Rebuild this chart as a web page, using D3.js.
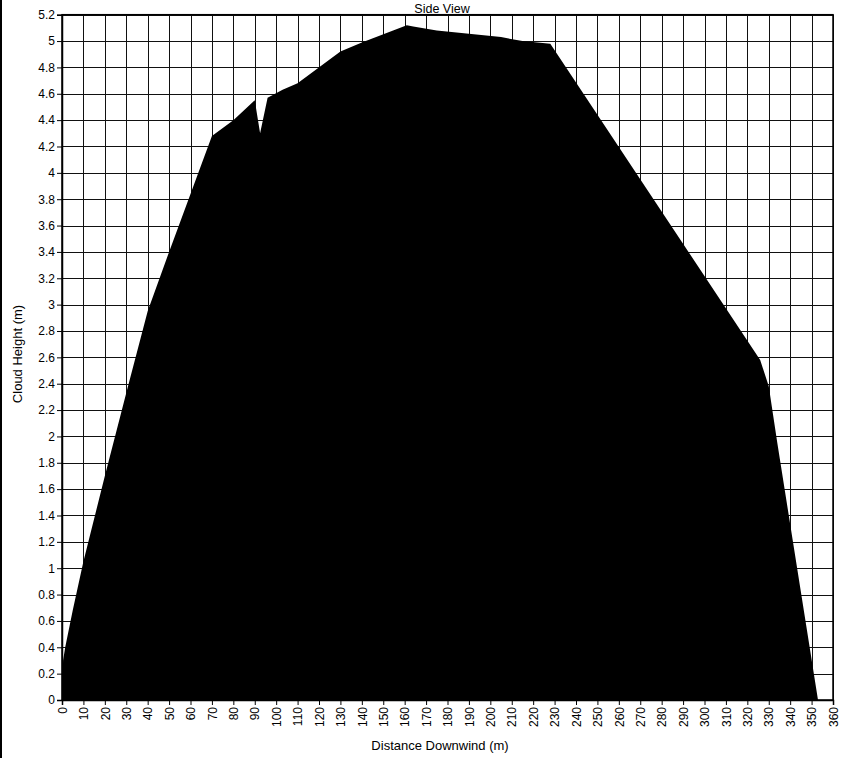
<!DOCTYPE html>
<html>
<head>
<meta charset="utf-8">
<script src="https://cdn.jsdelivr.net/npm/d3@7"></script>
<style>
  html, body { margin: 0; padding: 0; background: #fff; }
  svg { display: block; }
  text { font-family: Arial, "Liberation Sans", sans-serif; fill: #000; }
</style>
</head>
<body>
<svg id="chart" width="844" height="758"></svg>
<script>
// Data: cloud side-view profile (distance downwind m, cloud height m)
const distance = [0, 0.5, 1.5, 5, 10, 20, 30, 40, 50, 70, 80, 90, 92.5, 96, 103, 110, 130, 140, 161, 164, 175, 205, 215, 228, 326, 330, 334, 353];
const height   = [0, 0.3, 0.4, 0.68, 1.05, 1.7, 2.33, 2.95, 3.4, 4.28, 4.4, 4.55, 4.3, 4.57, 4.63, 4.68, 4.92, 4.99, 5.12, 5.11, 5.08, 5.03, 5.0, 4.98, 2.58, 2.38, 1.95, 0];
const xTicks = d3.range(0, 361, 10);
const yTicks = [0, 0.2, 0.4, 0.6, 0.8, 1, 1.2, 1.4, 1.6, 1.8, 2, 2.2, 2.4, 2.6, 2.8, 3, 3.2, 3.4, 3.6, 3.8, 4, 4.2, 4.4, 4.6, 4.8, 5, 5.2];
const titleText = "Side View";
const xTitle = "Distance Downwind (m)";
const yTitle = "Cloud Height (m)";

const svg = d3.select("#chart");
const mLeft = 62, mRight = 833, mTop = 14.7, mBottom = 700;

const x = d3.scaleLinear().domain([0, 360]).range([mLeft, mRight]);
const y = d3.scaleLinear().domain([0, 5.2]).range([mBottom, mTop]);

// outer frame line on the left edge
svg.append("line").attr("x1", 1).attr("x2", 1).attr("y1", 0).attr("y2", 758)
  .attr("stroke", "#000").attr("stroke-width", 2);

// gridlines
const grid = svg.append("g");
grid.selectAll("line.v").data(xTicks).join("line").attr("class", "v")
  .attr("x1", d => Math.round(x(d)) + 0.5).attr("x2", d => Math.round(x(d)) + 0.5)
  .attr("y1", mTop).attr("y2", mBottom)
  .attr("stroke", "#111").attr("stroke-width", 1);
grid.selectAll("line.h").data(yTicks).join("line").attr("class", "h")
  .attr("y1", d => Math.round(y(d)) + 0.5).attr("y2", d => Math.round(y(d)) + 0.5)
  .attr("x1", mLeft).attr("x2", mRight)
  .attr("stroke", "#111").attr("stroke-width", 1);

// area
const pts = distance.map((d, i) => [d, height[i]]);
const area = d3.area().x(d => x(d[0])).y0(y(0)).y1(d => y(d[1]));
svg.append("path").datum(pts).attr("d", area).attr("fill", "#000");

// frame
svg.append("rect").attr("x", mLeft).attr("y", mTop).attr("width", mRight - mLeft).attr("height", mBottom - mTop)
  .attr("fill", "none").attr("stroke", "#000").attr("stroke-width", 1.5);

// y axis
const yAxis = d3.axisLeft(y).tickValues(yTicks).tickSize(5).tickPadding(2)
  .tickFormat(d => d3.format("~g")(d));
const gy = svg.append("g").attr("transform", `translate(${mLeft},0)`).call(yAxis);
gy.select(".domain").attr("stroke", "#000").attr("stroke-width", 1.5);
gy.selectAll(".tick line").attr("stroke", "#000");
gy.selectAll(".tick text").style("font-size", "12px").style("font-family", "Arial, 'Liberation Sans', sans-serif").attr("fill", "#000");

// x axis
const xAxis = d3.axisBottom(x).tickValues(xTicks).tickSize(5).tickPadding(2);
const gx = svg.append("g").attr("transform", `translate(0,${mBottom})`).call(xAxis);
gx.select(".domain").attr("stroke", "#000").attr("stroke-width", 1.5);
gx.selectAll(".tick line").attr("stroke", "#000");
gx.selectAll(".tick text")
  .style("font-size", "12px").style("font-family", "Arial, 'Liberation Sans', sans-serif").attr("fill", "#000")
  .attr("transform", "rotate(-90)")
  .attr("x", -7).attr("y", 0).attr("dy", "0.35em")
  .attr("text-anchor", "end");

// titles
svg.append("text").attr("x", 442).attr("y", 12.5).attr("text-anchor", "middle")
  .style("font-size", "12.5px").text(titleText);
svg.append("text").attr("x", 440).attr("y", 750).attr("text-anchor", "middle")
  .style("font-size", "13px").text(xTitle);
svg.append("text").attr("transform", "translate(22,354) rotate(-90)").attr("text-anchor", "middle")
  .style("font-size", "13px").text(yTitle);
</script>
</body>
</html>
